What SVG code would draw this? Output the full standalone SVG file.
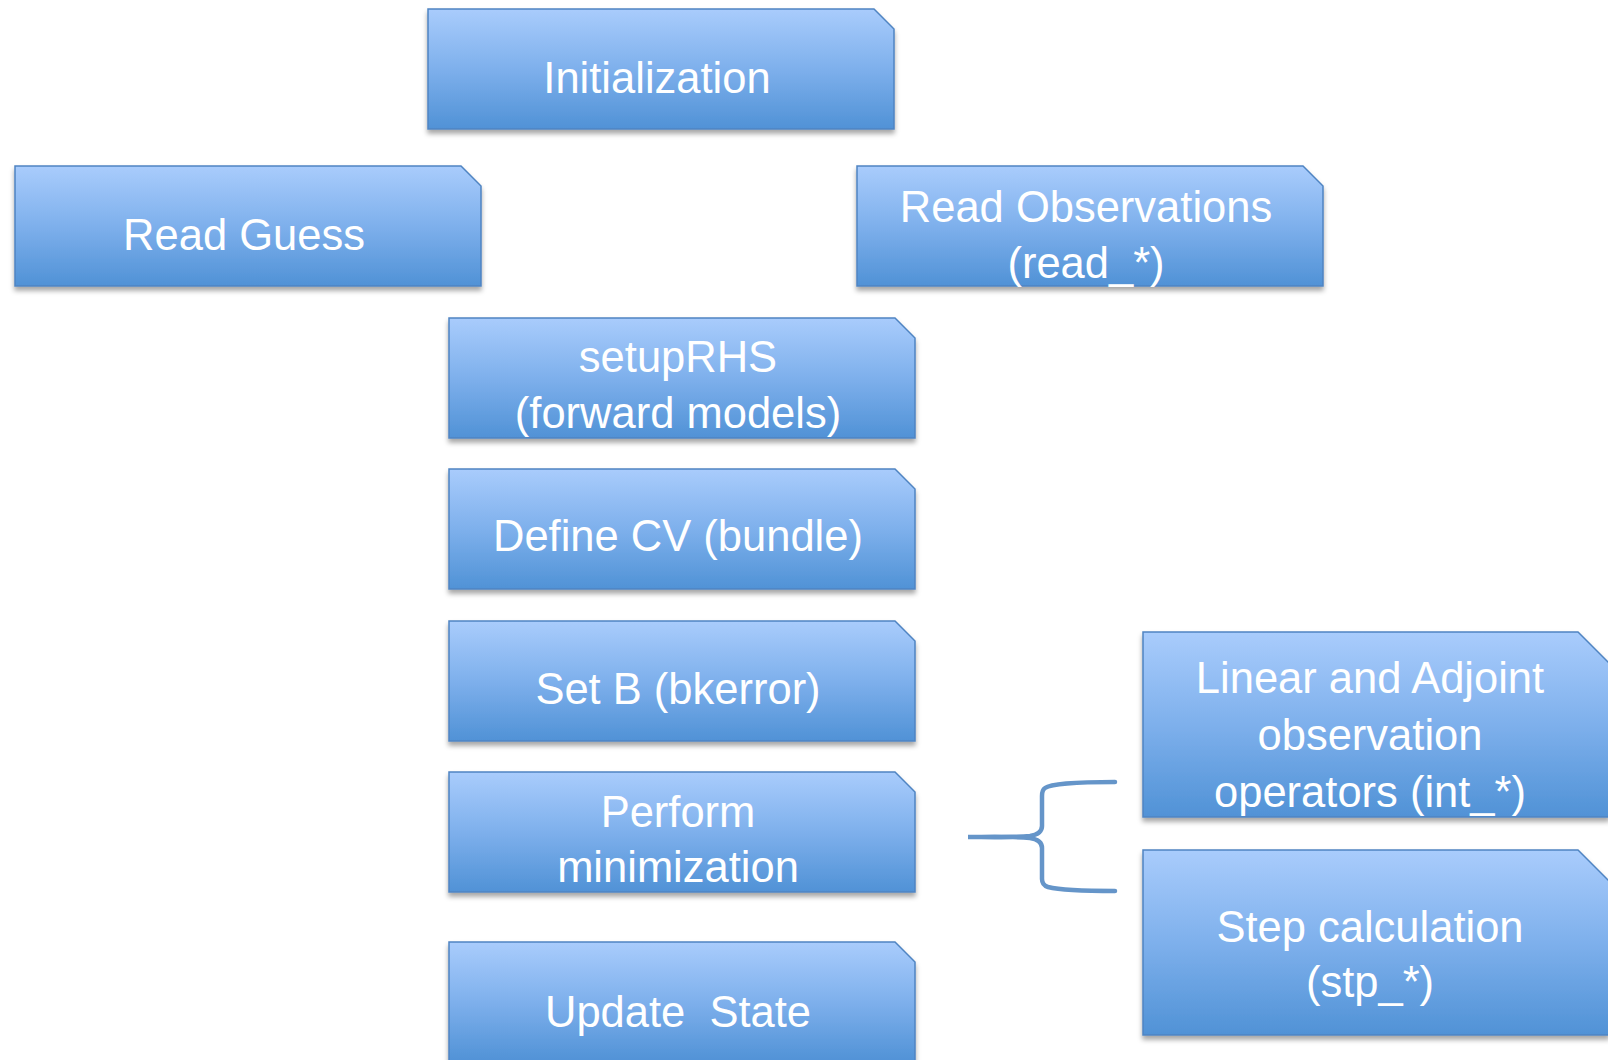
<svg xmlns="http://www.w3.org/2000/svg" width="1608" height="1060" viewBox="0 0 1608 1060">
<defs>
<linearGradient id="g" x1="0" y1="0" x2="0" y2="1">
<stop offset="0" stop-color="#a9ccfc"/>
<stop offset="0.5" stop-color="#7eb0ec"/>
<stop offset="1" stop-color="#5092d6"/>
</linearGradient>
<filter id="sh" x="-5%" y="-10%" width="110%" height="125%">
<feDropShadow dx="0" dy="4" stdDeviation="2.5" flood-color="#000" flood-opacity="0.35"/>
</filter>
</defs>
<style>
.box{fill:url(#g);stroke:#4f84c2;stroke-width:1.5;filter:url(#sh)}
.t{font-family:"Liberation Sans",Arial,sans-serif;font-size:43.5px;fill:#fff;text-anchor:middle}
.br{fill:none;stroke:#6595c9;stroke-width:4.5;stroke-linecap:round}
</style>
<rect width="1608" height="1060" fill="#fff"/>
<g id="initialization">
<path class="box" d="M428,9 H874 L894,29 V129 H428 Z"/>
<text class="t" x="657" y="93">Initialization</text>
</g>
<g id="read-guess">
<path class="box" d="M15,166 H461 L481,186 V286 H15 Z"/>
<text class="t" x="244" y="250">Read Guess</text>
</g>
<g id="read-observations">
<path class="box" d="M857,166 H1303 L1323,186 V286 H857 Z"/>
<text class="t" x="1086" y="222">Read Observations</text>
<text class="t" x="1086" y="278">(read_*)</text>
</g>
<g id="setuprhs">
<path class="box" d="M449,318 H895 L915,338 V438 H449 Z"/>
<text class="t" x="678" y="372">setupRHS</text>
<text class="t" x="678" y="428">(forward models)</text>
</g>
<g id="define-cv">
<path class="box" d="M449,469 H895 L915,489 V589 H449 Z"/>
<text class="t" x="678" y="551">Define CV (bundle)</text>
</g>
<g id="set-b">
<path class="box" d="M449,621 H895 L915,641 V741 H449 Z"/>
<text class="t" x="678" y="704">Set B (bkerror)</text>
</g>
<g id="perform-minimization">
<path class="box" d="M449,772 H895 L915,792 V892 H449 Z"/>
<text class="t" x="678" y="827">Perform</text>
<text class="t" x="678" y="882">minimization</text>
</g>
<g id="update-state">
<path class="box" d="M449,942 H895 L915,962 V1062 H449 Z"/>
<text class="t" x="678" y="1027" xml:space="preserve">Update  State</text>
</g>
<g id="linear-adjoint">
<path class="box" d="M1143,632 H1578 L1609,663 V817 H1143 Z"/>
<text class="t" x="1370" y="693">Linear and Adjoint</text>
<text class="t" x="1370" y="750">observation</text>
<text class="t" x="1370" y="807">operators (int_*)</text>
</g>
<g id="step-calculation">
<path class="box" d="M1143,850 H1578 L1609,881 V1035 H1143 Z"/>
<text class="t" x="1370" y="942">Step calculation</text>
<text class="t" x="1370" y="997">(stp_*)</text>
</g>
<g id="connectors">
<path class="br" d="M1115,782 C1080,782 1052,783 1045,788 Q1042,790 1042,796 V826 Q1042,834 1030,836 C1010,838 985,837 968,837 C985,837 1010,836 1030,838 Q1042,840 1042,848 V879 Q1042,885 1048,887 C1060,890 1085,891 1115,891"/>
</g>
</svg>
